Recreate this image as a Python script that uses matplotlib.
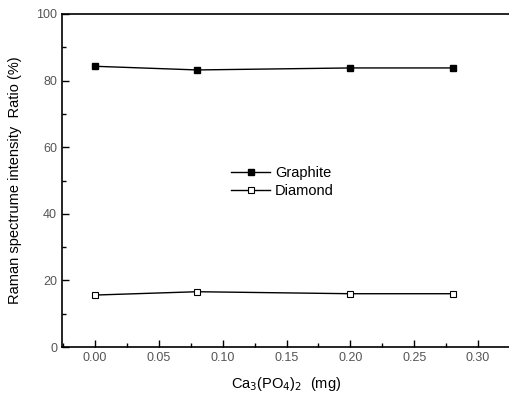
import matplotlib
matplotlib.use("Agg")
import matplotlib.pyplot as plt
from matplotlib.ticker import MultipleLocator

plt.rcParams['font.family'] = ['Liberation Sans', 'DejaVu Sans']

x = [0.0, 0.08, 0.20, 0.28]
graphite = [84.3, 83.2, 83.8, 83.8]
diamond = [15.6, 16.6, 16.0, 16.0]

fig = plt.figure(figsize=(5.10, 3.97), dpi=100)
ax = fig.add_axes([62 / 510, 50 / 397, 1 - 62 / 510, 333 / 397])

ax.plot(x, graphite, color='black', lw=1.0, marker='s', ms=5,
        mfc='black', mec='black', label='Graphite')
ax.plot(x, diamond, color='black', lw=1.0, marker='s', ms=5,
        mfc='white', mec='black', mew=0.8, label='Diamond')

ax.set_xlim(-0.0258, 0.325)
ax.set_ylim(0, 100)
ax.xaxis.set_major_locator(MultipleLocator(0.05))
ax.xaxis.set_minor_locator(MultipleLocator(0.025))
ax.yaxis.set_major_locator(MultipleLocator(20))
ax.yaxis.set_minor_locator(MultipleLocator(10))
ax.xaxis.set_major_formatter(plt.FormatStrFormatter('%.2f'))

ax.tick_params(which='both', direction='in', colors='black', labelcolor='#555555', labelsize=9)
ax.tick_params(which='major', length=5, width=1)
ax.tick_params(which='minor', length=3, width=1)
for s in ['left', 'bottom', 'top']:
    ax.spines[s].set_linewidth(1.2)
ax.spines['right'].set_visible(False)

ax.set_xlabel('Ca$_3$(PO$_4$)$_2$  (mg)', fontsize=10.5, labelpad=8)
ax.set_ylabel('Raman spectrume intensity  Ratio (%)', fontsize=10.5, labelpad=10)

ax.legend(loc='upper left', bbox_to_anchor=(231 / 510, 1 - 166 / 397),
          bbox_transform=fig.transFigure, frameon=False,
          fontsize=10.5, handlelength=2.7, handletextpad=0.3, labelspacing=0.25,
          borderaxespad=0, borderpad=0)

fig.savefig('out.png', dpi=100)
